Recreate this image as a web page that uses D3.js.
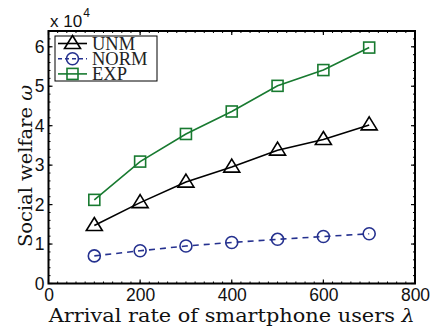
<!DOCTYPE html>
<html><head><meta charset="utf-8">
<script src="https://cdn.jsdelivr.net/npm/d3@7"></script>
<style>body{margin:0;background:#fff}</style>
</head><body><svg id="c" width="439" height="333"></svg>
<script>
const xValues = [100, 200, 300, 400, 500, 600, 700];
const unm = [1.47, 2.05, 2.57, 2.95, 3.38, 3.65, 4.02];
const norm = [0.70, 0.83, 0.95, 1.04, 1.12, 1.19, 1.26];
const expv = [2.12, 3.09, 3.79, 4.36, 5.01, 5.41, 5.98];
const xTicks = [0, 200, 400, 600, 800];
const yTicks = [0, 1, 2, 3, 4, 5, 6];
const seriesNames = ["UNM", "NORM", "EXP"];

const svg = d3.select("#c");
const L = 48.5, R = 415, T = 31, B = 283.5;
const x = d3.scaleLinear().domain([0, 800]).range([L, R]);
const y = d3.scaleLinear().domain([0, 6.4]).range([B, T]);

const sansFont = "Liberation Sans, Arial, sans-serif";
const serifFont = "DejaVu Serif, serif";
const legFont = "Liberation Serif, Times New Roman, serif";

// minor ticks (dotted)
const g = svg.append("g");
d3.range(0, 801, 20).forEach(v => {
  [[B, -2], [T, 2]].forEach(([yy, d]) => {
    g.append("line").attr("x1", x(v)).attr("x2", x(v)).attr("y1", yy).attr("y2", yy + d)
      .attr("stroke", "#000").attr("stroke-width", 1);
  });
});
d3.range(0, 6.41, 0.2).forEach(v => {
  [[L, 2], [R, -2]].forEach(([xx, d]) => {
    g.append("line").attr("x1", xx).attr("x2", xx + d).attr("y1", y(v)).attr("y2", y(v))
      .attr("stroke", "#000").attr("stroke-width", 1);
  });
});

// axes
const xAxis = d3.axisBottom(x).tickValues(xTicks).tickSize(0).tickPadding(5).tickFormat(d3.format("d"));
const yAxis = d3.axisLeft(y).tickValues(yTicks).tickSize(0).tickPadding(4).tickFormat(d3.format("d"));
const gx = svg.append("g").attr("transform", `translate(0,${B})`).call(xAxis);
const gy = svg.append("g").attr("transform", `translate(${L},0)`).call(yAxis);
[gx, gy].forEach(a => {
  a.select(".domain").remove();
  a.selectAll("text").attr("font-family", sansFont).attr("font-size", 17.5).attr("fill", "#111");
});
// major ticks inside
xTicks.forEach(v => {
  g.append("line").attr("x1", x(v)).attr("x2", x(v)).attr("y1", B).attr("y2", B - 4).attr("stroke", "#000").attr("stroke-width", 1.2);
  g.append("line").attr("x1", x(v)).attr("x2", x(v)).attr("y1", T).attr("y2", T + 4).attr("stroke", "#000").attr("stroke-width", 1.2);
});
yTicks.forEach(v => {
  g.append("line").attr("x1", L).attr("x2", L + 4).attr("y1", y(v)).attr("y2", y(v)).attr("stroke", "#000").attr("stroke-width", 1.2);
  g.append("line").attr("x1", R).attr("x2", R - 4).attr("y1", y(v)).attr("y2", y(v)).attr("stroke", "#000").attr("stroke-width", 1.2);
});
// box
svg.append("path").attr("d", `M${L},${T}H${R}V${B}H${L}Z`).attr("fill", "none").attr("stroke", "#000").attr("stroke-width", 2);

// exponent label
const ex = svg.append("text").attr("x", 50).attr("y", 27).attr("font-family", sansFont).attr("font-size", 17).attr("fill", "#111");
ex.append("tspan").text("x 10");
ex.append("tspan").attr("dy", -10).attr("dx", 1).attr("font-size", 12).text("4");

// axis titles
const xt = svg.append("text").attr("x", (L + R) / 2).attr("y", 322).attr("text-anchor", "middle")
  .attr("font-family", serifFont).attr("font-size", 18.5).attr("fill", "#111")
  .attr("textLength", 366).attr("lengthAdjust", "spacingAndGlyphs");
xt.append("tspan").text("Arrival rate of smartphone users ");
xt.append("tspan").attr("font-style", "italic").text("λ");
const yt = svg.append("text").attr("transform", `translate(32,166) rotate(-90)`).attr("text-anchor", "middle")
  .attr("font-family", serifFont).attr("font-size", 19).attr("fill", "#111")
  .attr("textLength", 162).attr("lengthAdjust", "spacingAndGlyphs");
yt.append("tspan").text("Social welfare ");
yt.append("tspan").attr("font-style", "italic").text("ω");

const colors = {UNM: "#000000", NORM: "#25318f", EXP: "#187a30"};
const data = {UNM: unm, NORM: norm, EXP: expv};
const dashes = {UNM: null, NORM: "6,5", EXP: null};

const line = d3.line().x((d, i) => x(xValues[i])).y(d => y(d));

function marker(sel, name, cx, cy) {
  const c = colors[name];
  if (name === "UNM") {
    sel.append("path").attr("d", `M${cx},${cy - 8}L${cx + 8},${cy + 5}L${cx - 8},${cy + 5}Z`)
      .attr("fill", "none").attr("stroke", c).attr("stroke-width", 1.6);
  } else if (name === "NORM") {
    sel.append("circle").attr("cx", cx).attr("cy", cy).attr("r", 6)
      .attr("fill", "none").attr("stroke", c).attr("stroke-width", 1.6);
  } else {
    sel.append("rect").attr("x", cx - 5.5).attr("y", cy - 5.5).attr("width", 11).attr("height", 11)
      .attr("fill", "none").attr("stroke", c).attr("stroke-width", 1.6);
  }
}

seriesNames.forEach(name => {
  const gs = svg.append("g");
  gs.append("path").datum(data[name]).attr("d", line).attr("fill", "none")
    .attr("stroke", colors[name]).attr("stroke-width", 1.6).attr("stroke-dasharray", dashes[name]);
  data[name].forEach((v, i) => marker(gs, name, x(xValues[i]), y(v)));
});

// legend
const lg = svg.append("g");
lg.append("rect").attr("x", 55).attr("y", 36).attr("width", 102).attr("height", 45)
  .attr("fill", "#fff").attr("stroke", "#000").attr("stroke-width", 1);
seriesNames.forEach((name, i) => {
  const yy = 43.5 + i * 15.2;
  lg.append("line").attr("x1", 58).attr("x2", 87).attr("y1", yy).attr("y2", yy)
    .attr("stroke", colors[name]).attr("stroke-width", 1.6).attr("stroke-dasharray", name === "NORM" ? "4,3" : null);
  marker(lg, name, 72.5, yy);
  lg.append("text").attr("x", 92).attr("y", yy + 6).attr("font-family", legFont).attr("font-size", 18.5)
    .attr("fill", "#222").text(name);
});
</script></body></html>
